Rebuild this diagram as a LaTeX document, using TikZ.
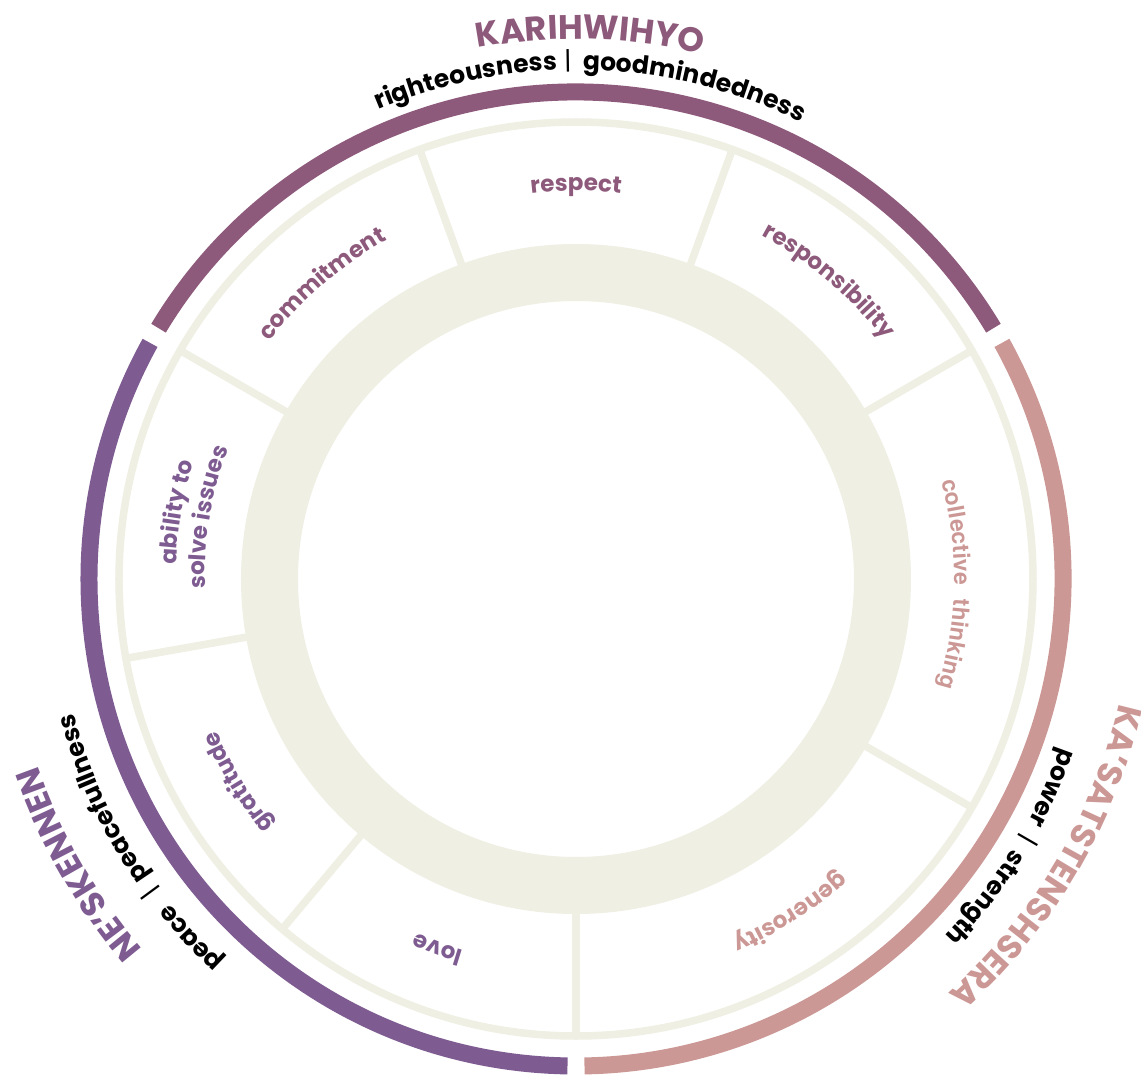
\documentclass[tikz,border=0pt]{standalone}
\usepackage{fontspec}
\setmainfont{Poppins}
\newfontfamily\plainsans{TeX Gyre Heros}
\usetikzlibrary{decorations.text}

\definecolor{kari}{HTML}{8E5A7B}
\definecolor{kasa}{HTML}{CC9895}
\definecolor{nesk}{HTML}{7E5C91}
\definecolor{pale}{HTML}{EFEFE4}

\tikzset{
  band/.style={line width=17pt},
  paleline/.style={draw=pale, line width=7.5pt},
}

% text set clockwise along a circle, letter tops outward
% #1 centre angle, #2 baseline radius, #3 format, #4 text
\newcommand\ringtext[4]{%
  \path[decorate, decoration={text along path, text align=center,
      text format delimiters={[}{]}, text={[#3]#4}}]
    ({#1+70}:#2pt) arc[start angle={#1+70}, end angle={#1-70}, radius=#2pt];}

\newcommand\valuefont{\bfseries\fontsize{23}{25}\selectfont}
\newcommand\thinkfont{\plainsans\bfseries\fontsize{23}{25}\selectfont}
\newcommand\subfont{\bfseries\fontsize{25}{27}\selectfont}
\newcommand\barfont{\mdseries\fontsize{25}{27}\selectfont}
\newcommand\headfont{\bfseries\fontsize{34}{37}\selectfont}

\begin{document}
\begin{tikzpicture}[x=1pt,y=1pt]
  \useasboundingbox[fill=white] (-576,-498) rectangle (565,579);
  \coordinate (centre) at (0,0);

  % inner wide ring
  \draw[pale, line width=57pt] (centre) circle[radius=306.5pt];
  % spokes between the segments
  \foreach \a in {30,70,110,150,190,230,270,330}
    \draw[paleline] (\a:332pt) -- (\a:457pt);
  % thin outer rim of the segments
  \draw[paleline] (centre) circle[radius=457pt];

  % coloured outer bands
  \draw[kari, band] (31:487pt) arc[start angle=31, end angle=149, radius=487pt];
  \draw[kasa, band] (29:487pt) arc[start angle=29, end angle=-89, radius=487pt];
  \draw[nesk, band] (-91:487pt) arc[start angle=-91, end angle=-209, radius=487pt];

  % outer headings
  \ringtext{88.5}{540}{\color{kari}\headfont}{KARIHWIHYO}
  \ringtext{-30.5}{557}{\color{kasa}\headfont}{KA’SATSTENSHSERA}
  \ringtext{-150.2}{570}{\color{nesk}\headfont}{NE’SKENNEN}

  % outer subtitles
  \ringtext{102.5}{509}{\color{black}\subfont}{righteousness}
  \ringtext{90.9}{509}{\color{black}\barfont}{|}
  \ringtext{76.5}{509}{\color{black}\subfont}{goodmindedness}
  \ringtext{-23.7}{513}{\color{black}\subfont}{power}
  \ringtext{-30.0}{513}{\color{black}\barfont}{|}
  \ringtext{-37.9}{513}{\color{black}\subfont}{strength}
  \ringtext{-137}{520}{\color{black}\subfont}{peace}
  \ringtext{-143.6}{520}{\color{black}\barfont}{|}
  \ringtext{-155.1}{520}{\color{black}\subfont}{peacefullness}

  % segment values
  \ringtext{90}{388}{\color{kari}\valuefont}{respect}
  \ringtext{49.7}{390}{\color{kari}\valuefont}{responsibility}
  \ringtext{130.7}{388}{\color{kari}\valuefont}{commitment}
  \ringtext{170.5}{400}{\color{nesk}\valuefont}{ability to}
  \ringtext{170.5}{371}{\color{nesk}\valuefont}{solve issues}
  \ringtext{7.0}{378}{\color{kasa}\thinkfont}{collective}
  \ringtext{-9.8}{378}{\color{kasa}\thinkfont}{thinking}
  \ringtext{-57.3}{393}{\color{kasa}\valuefont}{generosity}
  \ringtext{-110.5}{388}{\color{nesk}\valuefont}{love}
  \ringtext{-149}{390}{\color{nesk}\valuefont}{gratitude}
\end{tikzpicture}
\end{document}
